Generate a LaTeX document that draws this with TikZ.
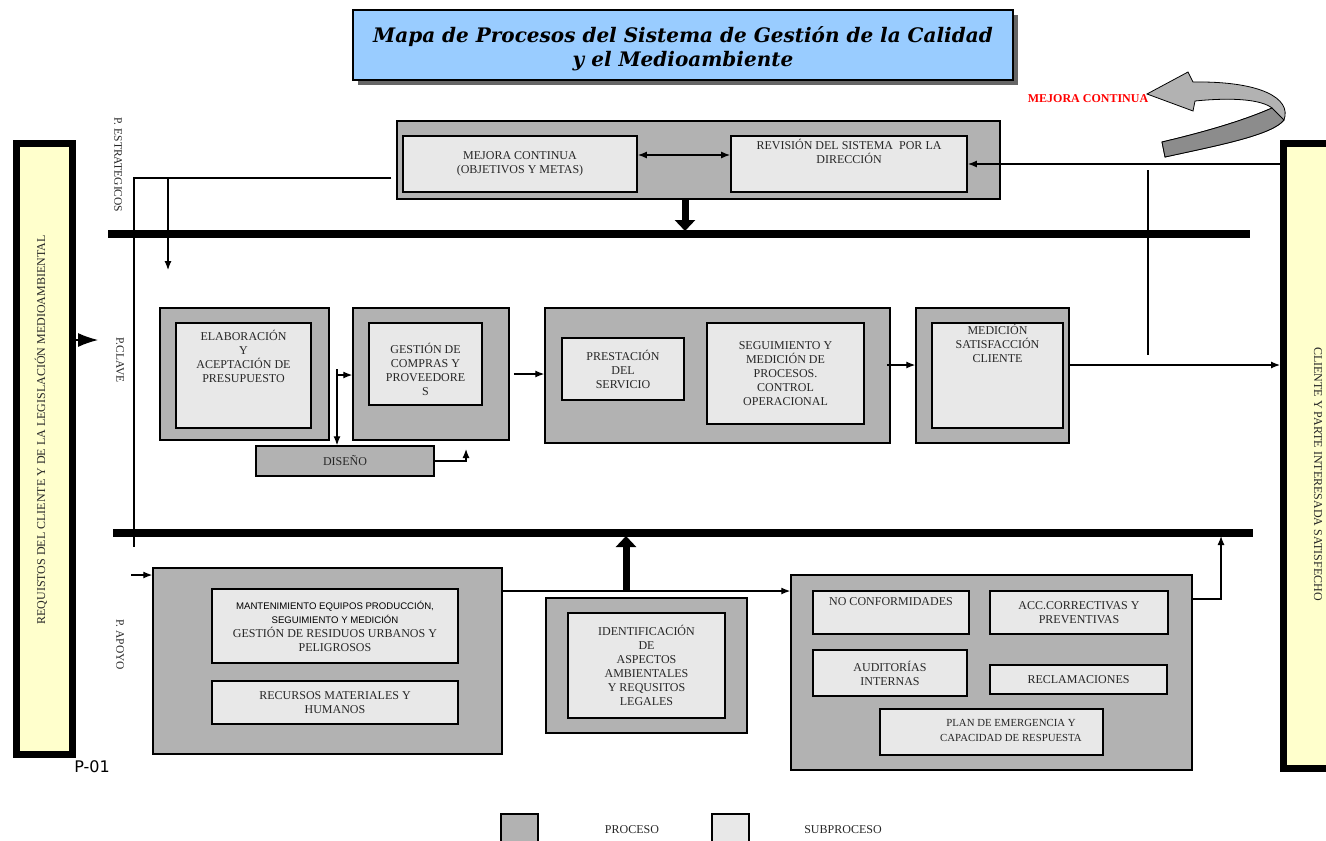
\documentclass[tikz,border=0pt]{standalone}
\usepackage{fontspec}
\setmainfont{Liberation Serif}
\setsansfont{Liberation Sans}
\newfontfamily\codefont{DejaVu Sans}
\newfontfamily\titlefont{DejaVu Serif}
\usetikzlibrary{arrows.meta,shadows,calc}

\definecolor{procgray}{HTML}{B2B2B2}
\definecolor{subgray}{HTML}{E8E8E8}
\definecolor{reqyellow}{HTML}{FFFFCC}
\definecolor{titleblue}{HTML}{99CCFF}

\begin{document}
\begin{tikzpicture}[x=1pt,y=-1pt,line width=1.2pt,>={Latex[length=9pt,width=7pt]}]
      \useasboundingbox (0,0) rectangle (1326,841);
      \tikzstyle{proc}=[rectangle,draw,fill=procgray,line width=1.5pt,inner sep=0pt]
      \tikzstyle{sub}=[rectangle,draw,fill=subgray,line width=1.8pt,inner sep=0pt]
      \tikzstyle{txt}=[align=center,inner sep=0pt,text=black!85,
        font=\fontsize{12}{14}\selectfont]
      \tikzstyle{side}=[rotate=-90,inner sep=0pt,text=black!85,
        font=\fontsize{11.5}{13}\selectfont]
      \tikzstyle{bar}=[rectangle,draw,fill=reqyellow,line width=7pt]
      \tikzstyle{rail}=[line width=8pt]
      \tikzstyle{big}=[line width=7pt,-{Triangle[length=11pt,width=20pt]}]

      % title
      \node[draw,fill=titleblue,line width=1.2pt,minimum width=660pt,minimum height=70pt,
        drop shadow={shadow xshift=5pt,shadow yshift=-5pt,fill=black!60,opacity=1}] (title) at (683,45) {};
      \node[align=center,inner sep=0pt,font=\titlefont\fontsize{20}{24}\selectfont\bfseries\itshape]
        (titlet) at (683,49) {Mapa de Procesos del Sistema de Gestión de la Calidad\\y el Medioambiente};

      % side bars
      \node[bar,minimum width=56pt,minimum height=611pt] (req) at (44.5,449) {};
      \node[side,rotate=180,font=\fontsize{12}{13}\selectfont] (reqt) at (41,430)
        {REQUISTOS DEL CLIENTE Y DE LA LEGISLACIÓN MEDIOAMBIENTAL};
      \node[bar,minimum width=61pt,minimum height=625pt] (cli) at (1314,456) {};
      \node[side,font=\fontsize{12}{13}\selectfont] (clit) at (1318,474)
        {CLIENTE Y PARTE INTERESADA SATISFECHO};

      \node[side] (pest) at (118,165) {P. ESTRATEGICOS};
      \node[side] (pcla) at (120,360) {P.CLAVE};
      \node[side] (papo) at (120,645) {P. APOYO};

      % rails
      \coordinate (r1a) at (108,234);
      \coordinate (r1b) at (1250,234);
      \coordinate (r2a) at (113,533);
      \coordinate (r2b) at (1253,533);
      \draw[rail] (r1a) -- (r1b);
      \draw[rail] (r2a) -- (r2b);

      % strategic processes
      \node[proc,minimum width=603pt,minimum height=78pt] (est) at (698.5,160) {};
      \node[sub,txt,minimum width=234pt,minimum height=56pt] (mc) at (520,164)
        {MEJORA CONTINUA\\(OBJETIVOS Y METAS)};
      \node[sub,minimum width=236pt,minimum height=56pt] (rev) at (849,164) {};
      \node[txt,anchor=north] (revt) at (849,139) {REVISIÓN DEL SISTEMA \ POR LA\\DIRECCIÓN};

      \coordinate (mcy) at (0,155);
      \draw[<->] (mc.east |- mcy) -- (rev.west |- mcy);
      \coordinate (estdn) at (685,231);
      \draw[big] (est.south -| estdn) -- (estdn);
      \draw[->] (cli.west |- rev.east) -- (rev.east);

      \coordinate (lt) at (134,178);
      \coordinate (lb) at (134,547);
      \draw ($(est.west |- lt)+(-5,0)$) -- (lt) -- (lb);
      \coordinate (dt) at (168,178);
      \coordinate (dd) at (168,270);
      \draw[->] (dt) -- (dd);
      \coordinate (vt) at (1148,170);
      \coordinate (vb) at (1148,355);
      \draw (vt) -- (vb);
      \coordinate (fl) at (98,340);
      \draw[-{Latex[length=20pt,width=14pt]}] (req.east |- fl) -- (fl);

      % mejora continua loop
      \fill[procgray,draw=black,line width=0.8pt] (1162,142) -- (1165,157)
        .. controls (1220,145) and (1272,135) .. (1284,120)
        .. controls (1292,98) and (1260,81) .. (1193,82)
        -- (1188,72) -- (1147,94) -- (1193,111) -- (1195,101)
        .. controls (1235,97) and (1262,100) .. (1272,108)
        .. controls (1240,122) and (1200,133) .. (1162,142) -- cycle;
      \fill[black!45,draw=black,line width=0.8pt] (1162,142) -- (1165,157)
        .. controls (1220,145) and (1272,135) .. (1284,120)
        -- (1272,108)
        .. controls (1240,122) and (1200,133) .. (1162,142) -- cycle;
      \node[text=red,font=\fontsize{12}{13}\selectfont\bfseries] (mct) at (1088,99) {MEJORA CONTINUA};

      % key processes
      \node[proc,minimum width=169pt,minimum height=132pt] (ela) at (244.5,374) {};
      \node[sub,minimum width=135pt,minimum height=105pt] (elai) at (243.5,375.5) {};
      \node[txt,anchor=north] (elat) at (243.5,330) {ELABORACIÓN\\Y\\ACEPTACIÓN DE\\PRESUPUESTO};

      \node[proc,minimum width=156pt,minimum height=132pt] (com) at (431,374) {};
      \node[sub,minimum width=113pt,minimum height=82pt] (comi) at (425.5,364) {};
      \node[txt,anchor=north] (comt) at (425.5,343) {GESTIÓN DE\\COMPRAS Y\\PROVEEDORE\\S};

      \node[proc,txt,minimum width=178pt,minimum height=30pt] (dis) at (345,461) {DISEÑO};

      \coordinate (jt) at (337,369);
      \coordinate (jm) at (337,375);
      \draw[->] (jt) -- (jt |- dis.north);
      \draw[->] (jm) -- (jm -| com.west);
      \coordinate (dz) at (466,449);
      \draw[->] (dis.east) -| (dz);

      \node[proc,minimum width=345pt,minimum height=135pt] (srv) at (717.5,375.5) {};
      \node[sub,txt,minimum width=122pt,minimum height=62pt] (pre) at (623,369)
        {PRESTACIÓN\\DEL\\SERVICIO};
      \node[sub,txt,minimum width=157pt,minimum height=101pt] (seg) at (785.5,373.5)
        {SEGUIMIENTO Y\\MEDICIÓN DE\\PROCESOS.\\CONTROL\\OPERACIONAL};
      \draw[->] ($(com.east)+(4,0)$) -- (com.east -| srv.west);

      \node[proc,minimum width=153pt,minimum height=135pt] (med) at (992.5,375.5) {};
      \node[sub,minimum width=131pt,minimum height=105pt] (medi) at (997.5,375.5) {};
      \node[txt,anchor=north] (medt) at (997.5,324) {MEDICIÓN\\SATISFACCIÓN\\CLIENTE};

      \coordinate (ky) at (0,365);
      \draw[->] ($(srv.east |- ky)+(-4,0)$) -- (med.west |- ky);
      \draw[->] (med.east |- ky) -- (cli.west |- ky);

      % support processes
      \node[proc,minimum width=349pt,minimum height=186pt] (apo) at (327.5,661) {};
      \node[sub,txt,minimum width=246pt,minimum height=74pt] (man) at (335,626)
        {{\sffamily\fontsize{9.6}{14}\selectfont\color{black} MANTENIMIENTO EQUIPOS PRODUCCIÓN,}\\
         {\sffamily\fontsize{9.6}{14}\selectfont\color{black} SEGUIMIENTO Y MEDICIÓN}\\
         GESTIÓN DE RESIDUOS URBANOS Y\\PELIGROSOS};
      \node[sub,txt,minimum width=246pt,minimum height=43pt] (rec) at (335,702.5)
        {RECURSOS MATERIALES Y\\HUMANOS};

      \node[proc,minimum width=201pt,minimum height=135pt] (ide) at (646.5,665.5) {};
      \node[sub,txt,minimum width=157pt,minimum height=105pt] (idei) at (646.5,665.5)
        {IDENTIFICACIÓN\\DE\\ASPECTOS\\AMBIENTALES\\Y REQUSITOS\\LEGALES};

      \node[proc,minimum width=401pt,minimum height=195pt] (mej) at (991.5,672.5) {};
      \node[sub,minimum width=156pt,minimum height=43pt] (nc) at (891,612.5) {};
      \node[txt,anchor=north] (nct) at (891,597) {NO CONFORMIDADES};
      \node[sub,txt,minimum width=178pt,minimum height=43pt] (acc) at (1079,612.5)
        {ACC.CORRECTIVAS Y\\PREVENTIVAS};
      \node[sub,txt,minimum width=154pt,minimum height=46pt] (aud) at (890,673)
        {AUDITORÍAS\\INTERNAS};
      \node[sub,txt,minimum width=177pt,minimum height=29pt] (recl) at (1078.5,679.5)
        {RECLAMACIONES};
      \node[sub,minimum width=223pt,minimum height=46pt] (plan) at (991.5,732) {};
      \node[txt,font=\fontsize{10.8}{15}\selectfont] (plant) at (1011,730)
        {PLAN DE EMERGENCIA Y\\CAPACIDAD DE RESPUESTA};

      \coordinate (ai) at (131,575);
      \draw[->] (ai) -- (ai -| apo.west);
      \coordinate (ay) at (0,591);
      \draw[->] (apo.east |- ay) -- (mej.west |- ay);
      \coordinate (uy) at (626,591);
      \coordinate (ut) at (626,536);
      \draw[big] (uy) -- (ut);
      \coordinate (sy) at (0,599);
      \coordinate (st) at (1221,536);
      \draw[->] (mej.east |- sy) -| (st);

      % legend
      \node[proc,minimum width=37pt,minimum height=34pt] (lgp) at (519.5,831) {};
      \node[txt,font=\fontsize{12}{13}\selectfont] (lgpt) at (632,830) {PROCESO};
      \node[sub,minimum width=37pt,minimum height=34pt] (lgs) at (730.5,831) {};
      \node[txt,font=\fontsize{12}{13}\selectfont] (lgst) at (843,830) {SUBPROCESO};

      \node[font=\codefont\fontsize{16}{18}\selectfont,inner sep=0pt] (pid) at (92,767) {P-01};
    \end{tikzpicture}
\end{document}
